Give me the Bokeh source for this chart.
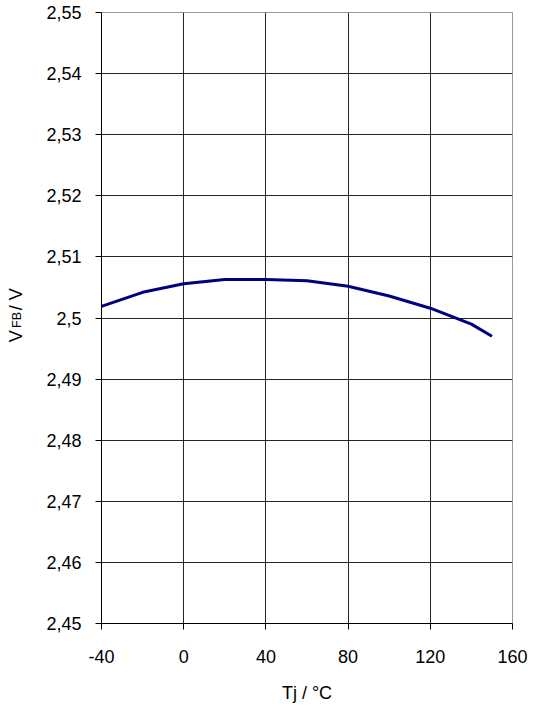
from bokeh.plotting import figure
from bokeh.layouts import row
from bokeh.models import Range1d, FixedTicker, CustomJSTickFormatter, Label
from bokeh.embed import file_html
from bokeh.resources import INLINE

# Data
tj = [-40, -20, 0, 20, 40, 60, 80, 100, 120, 140, 150]
vfb = [2.5019, 2.5042, 2.5056, 2.5063, 2.5063, 2.5061, 2.5052, 2.5036, 2.5016, 2.4990, 2.4970]

x_ticks = [-40, 0, 40, 80, 120, 160]
y_ticks = [2.45, 2.46, 2.47, 2.48, 2.49, 2.50, 2.51, 2.52, 2.53, 2.54, 2.55]

FONT = "Liberation Sans"
LABEL_W = 30
H = 708

# ---- narrow strip that carries the rotated y-axis title V_FB / V ----
lab = figure(width=LABEL_W, height=H, x_range=Range1d(0, LABEL_W), y_range=Range1d(0, H),
             output_backend="svg", toolbar_location=None,
             x_axis_location=None, y_axis_location=None,
             min_border_left=0, min_border_right=0, min_border_top=0, min_border_bottom=0)
lab.outline_line_color = None
lab.grid.visible = False
lab.background_fill_color = "white"
lab.border_fill_color = "white"

common = dict(angle=1.5707963, text_font=FONT, text_color="black",
              text_align="left", text_baseline="alphabetic")
lab.add_layout(Label(x=15, y=326, text="V", text_font_size="18px", **common))
lab.add_layout(Label(x=16, y=342.5, text="FB", text_font_size="12.5px", **common))
lab.add_layout(Label(x=15, y=363, text="/ V", text_font_size="18px", **common))

# ---- main chart ----
p = figure(width=533 - LABEL_W, height=H,
           x_range=Range1d(-40, 160), y_range=Range1d(2.45, 2.55),
           output_backend="svg", toolbar_location=None,
           min_border_left=101 - LABEL_W, min_border_right=21,
           min_border_top=12, min_border_bottom=85)

p.background_fill_color = "white"
p.border_fill_color = "white"
p.outline_line_color = "#999999"
p.outline_line_width = 1

p.line(tj, vfb, line_color="#000080", line_width=3)

p.xaxis.ticker = FixedTicker(ticks=x_ticks)
p.yaxis.ticker = FixedTicker(ticks=y_ticks)
p.yaxis.formatter = CustomJSTickFormatter(
    code="return tick.toFixed(2).replace(/0$/, '').replace('.', ',');")
p.xaxis.formatter = CustomJSTickFormatter(code="return tick.toFixed(0);")

for ax in (p.xaxis[0], p.yaxis[0]):
    ax.major_tick_out = 6
    ax.major_tick_in = 0
    ax.minor_tick_out = 0
    ax.minor_tick_in = 0
    ax.axis_line_color = "black"
    ax.axis_line_width = 1
    ax.major_tick_line_color = "black"
    ax.major_label_text_font = FONT
    ax.major_label_text_font_size = "18px"
    ax.major_label_text_color = "black"

p.yaxis.major_label_standoff = 14
p.xaxis.major_label_standoff = 20

p.xaxis.axis_label = "Tj / °C"
p.xaxis.axis_label_text_font = FONT
p.xaxis.axis_label_text_font_size = "18px"
p.xaxis.axis_label_text_font_style = "normal"
p.xaxis.axis_label_text_color = "black"
p.xaxis.axis_label_standoff = 17

p.xgrid.ticker = FixedTicker(ticks=[0, 40, 80, 120])
p.ygrid.ticker = FixedTicker(ticks=[2.46, 2.47, 2.48, 2.49, 2.50, 2.51, 2.52, 2.53, 2.54])
p.grid.grid_line_color = "black"
p.grid.grid_line_width = 1
p.grid.grid_line_alpha = 0.85

layout = row(lab, p, spacing=0)
open("out.html", "w").write(file_html(layout, INLINE))
